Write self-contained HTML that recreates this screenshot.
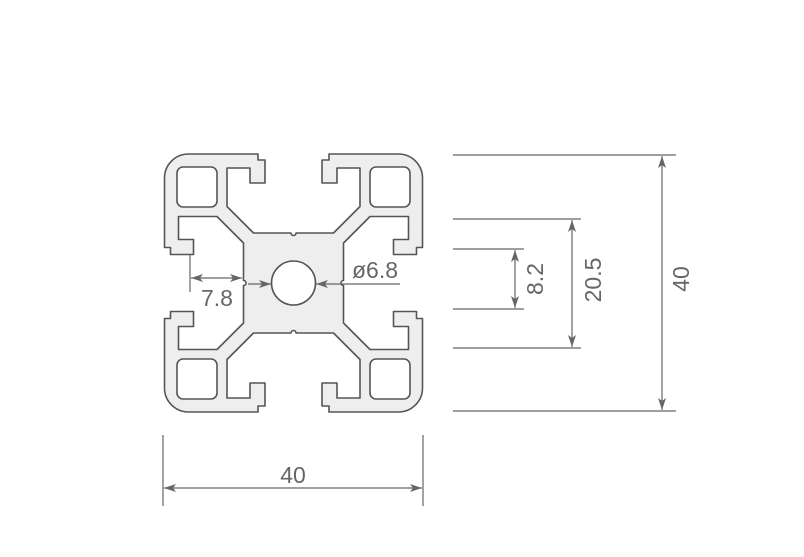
<!DOCTYPE html>
<html><head><style>
html,body{margin:0;padding:0;background:#fff;}
svg{display:block;}
text{font-family:"Liberation Sans","DejaVu Sans",sans-serif;fill:#666;font-size:23px;}
</style></head><body>
<svg width="804" height="557" viewBox="0 0 804 557" xmlns="http://www.w3.org/2000/svg">
<defs>
<marker id="ar" markerWidth="12" markerHeight="8" refX="12" refY="4" orient="auto" markerUnits="userSpaceOnUse">
<path d="M0,0 L12,4 L0,8 L3,4 Z" fill="#666"/>
</marker>
</defs>
<path fill="#eeeeee" stroke="#555" stroke-width="1.6" stroke-linejoin="round" fill-rule="evenodd" d="
M296,233 A2.5,2.5 0 0 1 291,233 L253.5,233 L227,206.5 L227,168 L250,168 L250,183 L265,183 L265,160 L258,160 L258,154 L188.5,154 A24,24 0 0 0 164.5,178 L164.5,247.5 L170.5,247.5 L170.5,254.5 L193.5,254.5 L193.5,239.5 L178.5,239.5 L178.5,216.5 L217,216.5 L243.5,243 L243.5,280.5
A2.5,2.5 0 0 1 243.5,285.5 L243.5,323 L217,349.5 L178.5,349.5 L178.5,326.5 L193.5,326.5 L193.5,311.5 L170.5,311.5 L170.5,318.5 L164.5,318.5 L164.5,388 A24,24 0 0 0 188.5,412 L258,412 L258,406 L265,406 L265,383 L250,383 L250,398 L227,398 L227,359.5 L253.5,333 L291,333
A2.5,2.5 0 0 1 296,333 L333.5,333 L360,359.5 L360,398 L337,398 L337,383 L322,383 L322,406 L329,406 L329,412 L398.5,412 A24,24 0 0 0 422.5,388 L422.5,318.5 L416.5,318.5 L416.5,311.5 L393.5,311.5 L393.5,326.5 L408.5,326.5 L408.5,349.5 L370,349.5 L343.5,323 L343.5,285.5
A2.5,2.5 0 0 1 343.5,280.5 L343.5,243 L370,216.5 L408.5,216.5 L408.5,239.5 L393.5,239.5 L393.5,254.5 L416.5,254.5 L416.5,247.5 L422.5,247.5 L422.5,178 A24,24 0 0 0 398.5,154 L329,154 L329,160 L322,160 L322,183 L337,183 L337,168 L360,168 L360,206.5 L333.5,233 Z"/>
<g fill="#fff" stroke="#555" stroke-width="1.6">
<rect x="177" y="167" width="40" height="40" rx="6"/>
<rect x="370" y="167" width="40" height="40" rx="6"/>
<rect x="177" y="359" width="40" height="40" rx="6"/>
<rect x="370" y="359" width="40" height="40" rx="6"/>
<circle cx="293.5" cy="283" r="22"/>
</g>
<g stroke="#666" stroke-width="1.2" fill="none">
<line x1="453" y1="155" x2="676" y2="155"/>
<line x1="453" y1="411" x2="676" y2="411"/>
<line x1="662" y1="283" x2="662" y2="156" marker-end="url(#ar)"/>
<line x1="662" y1="283" x2="662" y2="410" marker-end="url(#ar)"/>
<line x1="453" y1="219" x2="581" y2="219"/>
<line x1="453" y1="348" x2="581" y2="348"/>
<line x1="572" y1="283" x2="572" y2="220" marker-end="url(#ar)"/>
<line x1="572" y1="283" x2="572" y2="347" marker-end="url(#ar)"/>
<line x1="453" y1="249" x2="524" y2="249"/>
<line x1="453" y1="309" x2="524" y2="309"/>
<line x1="515" y1="279" x2="515" y2="250" marker-end="url(#ar)"/>
<line x1="515" y1="279" x2="515" y2="308" marker-end="url(#ar)"/>
<line x1="163" y1="435" x2="163" y2="506"/>
<line x1="423" y1="435" x2="423" y2="506"/>
<line x1="293" y1="488" x2="164" y2="488" marker-end="url(#ar)"/>
<line x1="293" y1="488" x2="422" y2="488" marker-end="url(#ar)"/>
<line x1="190" y1="255" x2="190" y2="292"/>
<line x1="217" y1="278" x2="191" y2="278" marker-end="url(#ar)"/>
<line x1="217" y1="278" x2="242" y2="278" marker-end="url(#ar)"/>
<line x1="248" y1="284" x2="271" y2="284" marker-end="url(#ar)"/>
<line x1="400" y1="284" x2="316" y2="284" marker-end="url(#ar)"/>
</g>
<text x="293" y="483" text-anchor="middle">40</text>
<text x="217" y="306" text-anchor="middle">7.8</text>
<text x="375" y="278" text-anchor="middle">ø6.8</text>
<text transform="translate(543,279) rotate(-90)" text-anchor="middle">8.2</text>
<text transform="translate(601,280) rotate(-90)" text-anchor="middle">20.5</text>
<text transform="translate(689,279) rotate(-90)" text-anchor="middle">40</text>
</svg>
</body></html>
